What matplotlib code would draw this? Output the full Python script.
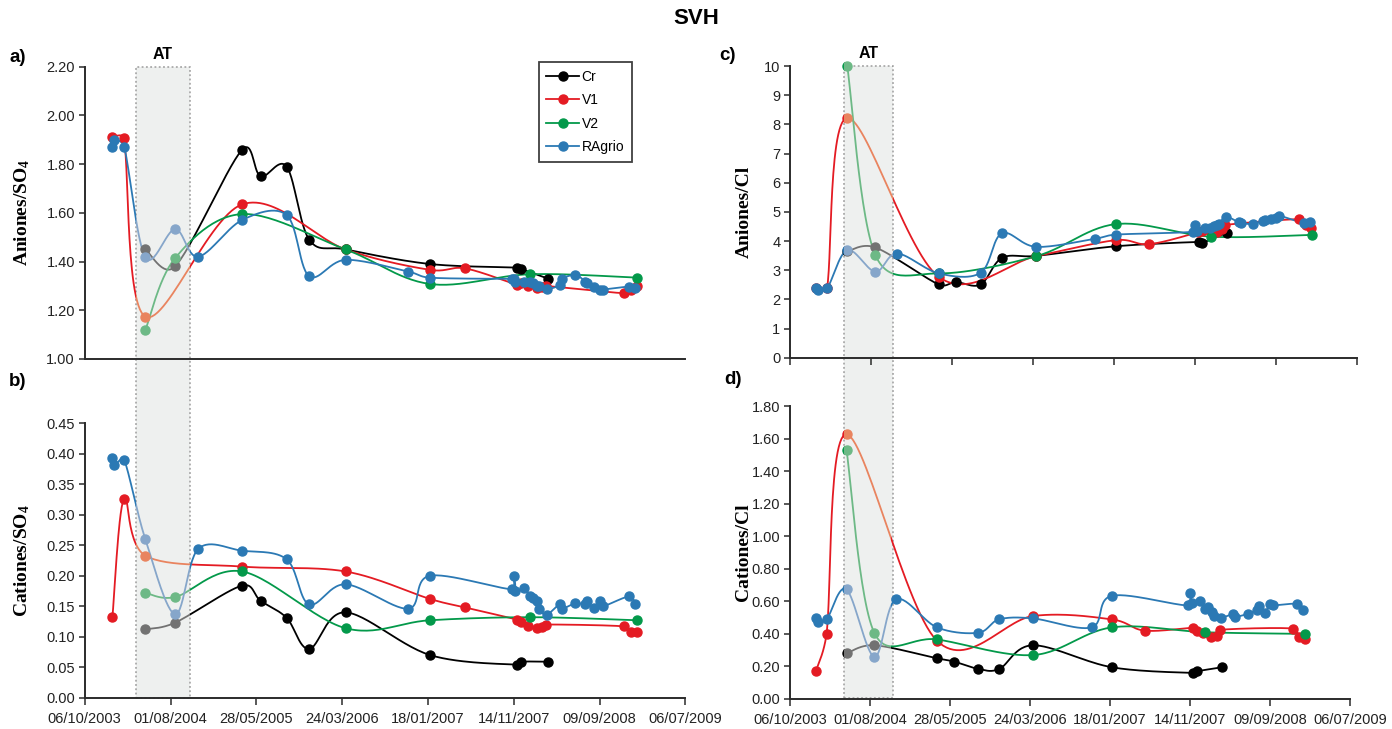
import datetime as dt
import numpy as np
import matplotlib
matplotlib.use("Agg")
import matplotlib.pyplot as plt
import matplotlib.dates as mdates
from matplotlib.patches import Rectangle
from matplotlib.transforms import blended_transform_factory
from matplotlib.lines import Line2D
from matplotlib.ticker import FixedLocator, FuncFormatter
from matplotlib import font_manager as fm

# ---------------- data ----------------
series_names = ["Cr", "V1", "V2", "RAgrio"]

cr_dates = ["2004-05-05", "2004-08-17", "2005-04-09", "2005-06-12", "2005-09-11", "2005-11-29",
            "2006-04-05", "2007-01-25", "2007-11-27", "2007-12-09", "2008-03-13"]
cr_an_so4 = [1.45, 1.38, 1.86, 1.75, 1.79, 1.49, 1.45, 1.39, 1.375, 1.37, 1.33]
cr_cat_so4 = [0.112, 0.123, 0.184, 0.159, 0.131, 0.080, 0.140, 0.070, 0.054, 0.059, 0.059]
cr_an_cl = [3.65, 3.78, 2.51, 2.59, 2.51, 3.42, 3.49, 3.82, 3.97, 3.93, 4.29]
cr_cat_cl = [0.28, 0.33, 0.25, 0.23, 0.185, 0.185, 0.33, 0.195, 0.16, 0.17, 0.195]

v1_dates = ["2004-01-11", "2004-02-20", "2004-05-05", "2005-04-09", "2006-04-05", "2007-01-25",
            "2007-05-28", "2007-11-26", "2007-12-11", "2008-01-03", "2008-02-02", "2008-02-22",
            "2008-03-05", "2008-12-04", "2008-12-28", "2009-01-17"]
v1_an_so4 = [1.913, 1.906, 1.174, 1.635, 1.45, 1.366, 1.372, 1.305, 1.31, 1.30, 1.29, 1.295,
             1.30, 1.27, 1.285, 1.30]
v1_cat_so4 = [0.133, 0.326, 0.233, 0.215, 0.207, 0.162, 0.148, 0.128, 0.124, 0.118, 0.114, 0.116,
              0.120, 0.117, 0.108, 0.108]
v1_an_cl = [2.38, 2.38, 8.22, 2.77, 3.48, 4.03, 3.89, 4.30, 4.35, 4.38, 4.30, 4.40,
            4.55, 4.75, 4.55, 4.45]
v1_cat_cl = [0.17, 0.40, 1.626, 0.358, 0.51, 0.489, 0.42, 0.437, 0.42, 0.407, 0.38, 0.39,
             0.425, 0.433, 0.38, 0.368]

v2_dates = ["2004-05-05", "2004-08-17", "2005-04-09", "2006-04-05", "2007-01-25", "2008-01-11",
            "2009-01-19"]
v2_an_so4 = [1.119, 1.414, 1.595, 1.45, 1.308, 1.348, 1.334]
v2_cat_so4 = [0.172, 0.165, 0.207, 0.114, 0.127, 0.132, 0.127]
v2_an_cl = [10.0, 3.52, 2.89, 3.48, 4.58, 4.15, 4.21]
v2_cat_cl = [1.528, 0.407, 0.366, 0.27, 0.44, 0.41, 0.40]

ra_dates = ["2004-01-10", "2004-01-18", "2004-02-21", "2004-05-05", "2004-08-17", "2004-11-06",
            "2005-04-09", "2005-09-11", "2005-11-28", "2006-04-05", "2006-11-10", "2007-01-25",
            "2007-11-08", "2007-11-14", "2007-11-20", "2007-12-21", "2008-01-09", "2008-01-22",
            "2008-02-03", "2008-02-12", "2008-03-08", "2008-04-24", "2008-05-02", "2008-06-17",
            "2008-07-21", "2008-07-29", "2008-08-20", "2008-09-09", "2008-09-21", "2008-12-21",
            "2009-01-12"]
ra_an_so4 = [1.872, 1.90, 1.872, 1.418, 1.533, 1.42, 1.571, 1.591, 1.341, 1.407, 1.359, 1.334,
             1.329, 1.33, 1.317, 1.317, 1.317, 1.31, 1.30, 1.30, 1.286, 1.304, 1.33, 1.345,
             1.318, 1.31, 1.297, 1.283, 1.285, 1.297, 1.29]
ra_cat_so4 = [0.393, 0.382, 0.390, 0.260, 0.137, 0.244, 0.241, 0.227, 0.153, 0.186, 0.146, 0.200,
              0.178, 0.199, 0.175, 0.180, 0.167, 0.163, 0.159, 0.146, 0.136, 0.154, 0.146, 0.155,
              0.153, 0.158, 0.147, 0.159, 0.150, 0.166, 0.153]
ra_an_cl = [2.38, 2.33, 2.38, 3.69, 2.95, 3.57, 2.89, 2.91, 4.26, 3.80, 4.08, 4.22,
            4.32, 4.54, 4.35, 4.44, 4.45, 4.50, 4.54, 4.60, 4.83, 4.64, 4.62, 4.58,
            4.70, 4.73, 4.76, 4.80, 4.87, 4.61, 4.64]
ra_cat_cl = [0.495, 0.475, 0.49, 0.673, 0.26, 0.612, 0.44, 0.407, 0.489, 0.495, 0.44, 0.634,
             0.575, 0.651, 0.59, 0.60, 0.553, 0.565, 0.536, 0.509, 0.497, 0.523, 0.505, 0.523,
             0.549, 0.573, 0.531, 0.585, 0.575, 0.585, 0.549]

x_tick_labels = ["06/10/2003", "01/08/2004", "28/05/2005", "24/03/2006", "18/01/2007",
                 "14/11/2007", "09/09/2008", "06/07/2009"]
at_left = ["2004-04-01", "2004-10-08"]
at_right = ["2004-04-24", "2004-10-20"]

y_ticks_a = [1.00, 1.20, 1.40, 1.60, 1.80, 2.00, 2.20]
y_ticks_b = [0.00, 0.05, 0.10, 0.15, 0.20, 0.25, 0.30, 0.35, 0.40, 0.45]
y_ticks_c = [0, 1, 2, 3, 4, 5, 6, 7, 8, 9, 10]
y_ticks_d = [0.00, 0.20, 0.40, 0.60, 0.80, 1.00, 1.20, 1.40, 1.60, 1.80]

# ---------------- styling ----------------
colors = {"Cr": "#000000", "V1": "#E41B23", "V2": "#03994A", "RAgrio": "#2B79B4"}
light = {"Cr": "#727272", "V1": "#E9845F", "V2": "#6DB986", "RAgrio": "#86A6CA"}


def pick(names, default="DejaVu Sans"):
    for n in names:
        try:
            fm.findfont(fm.FontProperties(family=n), fallback_to_default=False)
            return n
        except Exception:
            pass
    return default


NARROW = pick(["Liberation Sans Narrow", "Liberation Sans"])
SANS = pick(["Liberation Sans", "Arial"])
SERIF = pick(["Liberation Serif", "DejaVu Serif"])

plt.rcParams["mathtext.fontset"] = "custom"
plt.rcParams["mathtext.rm"] = SERIF + ":bold"
plt.rcParams["mathtext.default"] = "rm"

W, H = 1392, 729
fig = plt.figure(figsize=(W / 100, H / 100), dpi=100)


def add_ax(l, r, t, b):
    return fig.add_axes([l / W, 1 - b / H, (r - l) / W, (b - t) / H])


def to_num(ds):
    return mdates.date2num([dt.datetime.strptime(d, "%Y-%m-%d") for d in ds])


def smooth(ax, x, y, n=30):
    """Excel-like smoothed line: cubic Bezier with arms (P[i+1]-P[i-1])/6,
    each arm capped at half the segment length (computed in display space)."""
    P = ax.transData.transform(np.column_stack([x, y]).astype(float))
    m = len(P)
    if m < 3:
        return x, y
    out = [P[0]]
    t = np.linspace(0, 1, n)[1:, None]
    for i in range(m - 1):
        p0 = P[i - 1] if i > 0 else P[i]
        p1, p2 = P[i], P[i + 1]
        p3 = P[i + 2] if i + 2 < m else P[i + 1]
        L = np.hypot(*(p2 - p1))
        a1 = (p2 - p0) / 6.0
        a2 = (p3 - p1) / 6.0
        n1, n2 = np.hypot(*a1), np.hypot(*a2)
        if n1 > L / 2 and n1 > 0:
            a1 = a1 * (L / 2) / n1
        if n2 > L / 2 and n2 > 0:
            a2 = a2 * (L / 2) / n2
        c1, c2 = p1 + a1, p2 - a2
        seg = (1 - t) ** 3 * p1 + 3 * (1 - t) ** 2 * t * c1 + 3 * (1 - t) * t ** 2 * c2 + t ** 3 * p2
        out.extend(seg)
    out = ax.transData.inverted().transform(np.array(out))
    return out[:, 0], out[:, 1]


tick_dates = [dt.datetime.strptime(s, "%d/%m/%Y") for s in x_tick_labels]
tick_nums = mdates.date2num(tick_dates)
xlim = (tick_nums[0], tick_nums[-1])

ax_a = add_ax(84.7, 685.3, 66.7, 359.0)
ax_b = add_ax(84.7, 685.3, 423.3, 697.7)
ax_c = add_ax(790.0, 1357.0, 66.0, 357.7)
ax_d = add_ax(790.0, 1350.0, 406.0, 699.0)

specs = [
    (ax_a, "an_so4", y_ticks_a, "{:.2f}", r"Aniones/SO$_4$", False, 0),
    (ax_b, "cat_so4", y_ticks_b, "{:.2f}", r"Cationes/SO$_4$", True, 5),
    (ax_c, "an_cl", y_ticks_c, "{:d}", "Aniones/Cl", False, 5),
    (ax_d, "cat_cl", y_ticks_d, "{:.2f}", "Cationes/Cl", True, 5),
]

data = {
    "Cr": (cr_dates, {"an_so4": cr_an_so4, "cat_so4": cr_cat_so4, "an_cl": cr_an_cl, "cat_cl": cr_cat_cl}),
    "V1": (v1_dates, {"an_so4": v1_an_so4, "cat_so4": v1_cat_so4, "an_cl": v1_an_cl, "cat_cl": v1_cat_cl}),
    "V2": (v2_dates, {"an_so4": v2_an_so4, "cat_so4": v2_cat_so4, "an_cl": v2_an_cl, "cat_cl": v2_cat_cl}),
    "RAgrio": (ra_dates, {"an_so4": ra_an_so4, "cat_so4": ra_cat_so4, "an_cl": ra_an_cl, "cat_cl": ra_cat_cl}),
}

# x of the label's right edge (axes fraction)
label_x = {ax_a: -0.088, ax_b: -0.088, ax_c: -0.066, ax_d: -0.067}

for ax, key, yt, fmt, ylab, show_xlab, xtl in specs:
    ax._key = key
    ax.set_facecolor("none")
    ax.set_xlim(*xlim)
    ax.set_ylim(yt[0], yt[-1])
    for s in ("top", "right"):
        ax.spines[s].set_visible(False)
    for s in ("left", "bottom"):
        ax.spines[s].set_linewidth(1.4)
        ax.spines[s].set_color("#2b2b2b")
    ax.yaxis.set_major_locator(FixedLocator(yt))
    ax.yaxis.set_major_formatter(FuncFormatter(
        lambda v, p, f=fmt: f.format(int(round(v))) if f == "{:d}" else f.format(v)))
    ax.xaxis.set_major_locator(FixedLocator(tick_nums))
    if show_xlab:
        ax.set_xticklabels(x_tick_labels)
    else:
        ax.set_xticklabels([])
    ax.tick_params(axis="y", direction="out", length=4, width=1.1, color="#2b2b2b",
                   labelsize=10.5, labelcolor="#222222", pad=3)
    ax.tick_params(axis="x", direction="out", length=xtl, width=1.1, color="#2b2b2b",
                   labelsize=10.5, labelcolor="#222222", pad=5)
    for lab in ax.get_xticklabels() + ax.get_yticklabels():
        lab.set_fontfamily(NARROW)
    ax.set_ylabel(ylab, fontsize=14, fontweight="bold", family=SERIF)
    ax.yaxis.set_label_coords(label_x[ax], 0.5)

# AT shaded boxes (spanning both stacked panels)
for top_ax, at in ((ax_a, at_left), (ax_c, at_right)):
    a0, a1 = to_num(at)
    trans = blended_transform_factory(top_ax.transData, fig.transFigure)
    y_top = 1 - (66.5 if top_ax is ax_a else 66.0) / H
    y_bot = 1 - 698.0 / H
    box = Rectangle((a0, y_bot), a1 - a0, y_top - y_bot, transform=trans,
                    facecolor="#EEF0EF", edgecolor="#9C9C9C", linestyle=(0, (1.2, 1.6)),
                    linewidth=1.1, zorder=-5)
    fig.add_artist(box)
    top_ax.text((a0 + a1) / 2, y_top + 12 / H, "AT", transform=trans, ha="center", va="center",
                fontsize=11.5, fontweight="bold", family=NARROW)


def draw_series(ax, name, at):
    dates, vals = data[name]
    x = to_num(dates)
    y = np.array(vals[ax._key], dtype=float)
    sx, sy = smooth(ax, x, y)
    a0, a1 = to_num(at)
    trans = blended_transform_factory(ax.transData, fig.transFigure)
    big = 1.0e5
    regions = [(x.min() - big, a0 - (x.min() - big), colors[name]),
               (a0, a1 - a0, light[name]),
               (a1, big, colors[name])]
    for x0, w, c in regions:
        clip = Rectangle((x0, -1), w, 3, transform=trans)
        ln, = ax.plot(sx, sy, color=c, lw=1.3, solid_joinstyle="round", zorder=2)
        ln.set_clip_path(clip)
        mk, = ax.plot(x, y, "o", color=c, ms=6.5, mec=c, zorder=3)
        mk.set_clip_path(clip)


for ax, at in ((ax_a, at_left), (ax_b, at_left), (ax_c, at_right), (ax_d, at_right)):
    for name in series_names:
        draw_series(ax, name, at)

# legend
handles = [Line2D([0], [0], color=colors[n], lw=1.3, marker="o", ms=6.5) for n in series_names]
leg = fig.legend(handles, series_names, loc="upper left", bbox_to_anchor=(538.5 / W, 1 - 62.0 / H),
                 bbox_transform=fig.transFigure, frameon=True, fancybox=False, borderaxespad=0,
                 handlelength=2.4, handletextpad=0.15, labelspacing=0.68, borderpad=0.55,
                 prop={"family": SANS, "size": 10})
leg.get_frame().set_edgecolor("#111111")
leg.get_frame().set_linewidth(1.3)

# panel labels and title
for txt, (px, py) in zip(["a)", "b)", "c)", "d)"], [(18, 57), (18, 382), (728, 55), (733, 380)]):
    fig.text(px / W, 1 - py / H, txt, ha="center", va="center", fontsize=13.5, fontweight="bold",
             family=NARROW)
fig.text(696 / W, 1 - 19 / H, "SVH", ha="center", va="center", fontsize=16, fontweight="bold",
         family=NARROW)

fig.savefig("out.png", dpi=100)
